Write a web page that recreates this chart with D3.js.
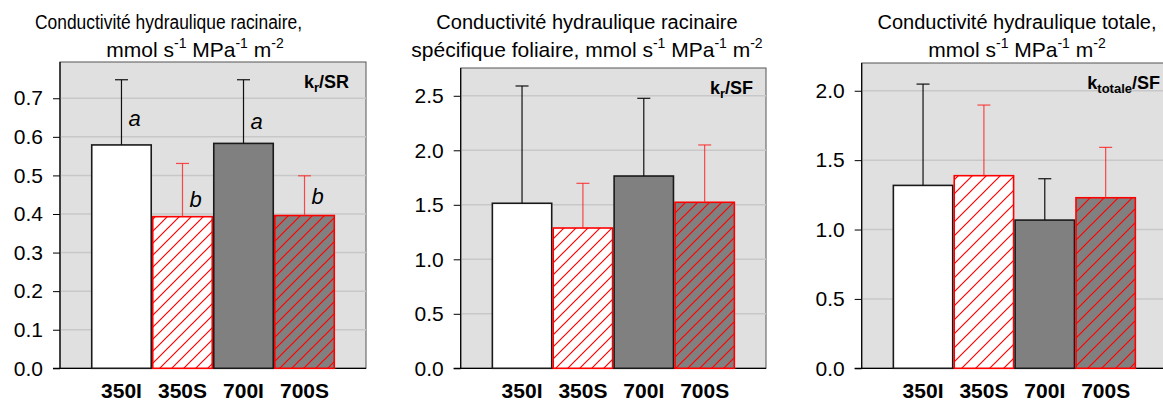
<!DOCTYPE html>
<html>
<head>
<meta charset="utf-8">
<script src="https://cdn.jsdelivr.net/npm/d3@7"></script>
<style>
  body { margin: 0; background: #fff; }
  svg { display: block; font-family: "Liberation Sans", Arial, sans-serif; }
</style>
</head>
<body>
<svg id="chart" width="1163" height="403"></svg>
<script>
// data
var categories = ['350I', '350S', '700I', '700S'];

var krSR_mean = [0.579, 0.393, 0.583, 0.396];
var krSR_err = [0.169, 0.138, 0.165, 0.103];
var krSR_letters = ['a', 'b', 'a', 'b'];
var krSR_letterY = [0.628, 0.418, 0.620, 0.426];

var krSF_mean = [1.514, 1.287, 1.764, 1.523];
var krSF_err = [1.076, 0.410, 0.713, 0.526];

var ktot_mean = [1.318, 1.388, 1.068, 1.229];
var ktot_err = [0.730, 0.509, 0.298, 0.363];

var ticksSR = [0, 0.1, 0.2, 0.3, 0.4, 0.5, 0.6, 0.7];
var ticksSF = [0, 0.5, 1.0, 1.5, 2.0, 2.5];
var ticksTot = [0, 0.5, 1.0, 1.5, 2.0];

var svg = d3.select('#chart');
var fmt = d3.format('.1f');

var panels = [
    { id: 'p1', left: 60, right: 366, top: 62, bottom: 368.3, ymax: 0.794,
      mean: krSR_mean, err: krSR_err, ticks: ticksSR, hatch: 12,
      title1: 'Conductivité hydraulique racinaire,', pre2: '', titleX: 195,
      t1x: 35, t1w: 267,
      tag: ['k', 'r', '/SR'], tagX: 349, letters: krSR_letters, letterY: krSR_letterY },
    { id: 'p2', left: 460.7, right: 766, top: 68, bottom: 368.3, ymax: 2.755,
      mean: krSF_mean, err: krSF_err, ticks: ticksSF, hatch: 12,
      title1: 'Conductivité hydraulique racinaire', pre2: 'spécifique foliaire, ', titleX: 587,
      tag: ['k', 'r', '/SF'], tagX: 753 },
    { id: 'p3', left: 861.7, right: 1167, top: 63, bottom: 368.3, ymax: 2.2,
      mean: ktot_mean, err: ktot_err, ticks: ticksTot, hatch: 14,
      title1: 'Conductivité hydraulique totale,', pre2: '', titleX: 1017,
      tag: ['k', 'totale', '/SF'], tagX: 1160 }
];

var defs = svg.append('defs');

panels.forEach(function(p) {
    // hatch patterns, white and grey backgrounds
    [['w', '#ffffff'], ['g', '#808080']].forEach(function(b) {
        var s = p.hatch;
        var pat = defs.append('pattern')
            .attr('id', 'hatch-' + p.id + b[0])
            .attr('patternUnits', 'userSpaceOnUse')
            .attr('width', s).attr('height', s);
        pat.append('rect').attr('width', s).attr('height', s).style('fill', b[1]);
        pat.append('path')
            .attr('d', 'M0,' + s + 'L' + s + ',0M-2,2L2,-2M' + (s - 2) + ',' + (s + 2) + 'L' + (s + 2) + ',' + (s - 2))
            .style('fill', 'none').style('stroke', '#ff0000').style('stroke-width', '1.2px');
    });

    var x = d3.scaleBand().domain(categories).range([p.left, p.right])
        .paddingInner(0.025).paddingOuter(0.52);
    var y = d3.scaleLinear().domain([0, p.ymax]).range([p.bottom, p.top]);

    var g = svg.append('g');

    g.append('rect')
        .attr('x', p.left).attr('y', p.top)
        .attr('width', p.right - p.left).attr('height', p.bottom - p.top)
        .attr('fill', '#e0e0e0').attr('stroke', '#555').attr('stroke-width', 1);

    g.selectAll('.grid').data(p.ticks.filter(function(d) { return d > 0; }))
        .enter().append('line')
        .attr('x1', p.left).attr('x2', p.right)
        .attr('y1', function(d) { return y(d); }).attr('y2', function(d) { return y(d); })
        .attr('stroke', '#c8c8c8').attr('stroke-width', 1.5);

    var axis = g.append('g').attr('transform', 'translate(' + p.left + ',0)')
        .call(d3.axisLeft(y).tickValues(p.ticks).tickFormat(fmt).tickSize(7).tickSizeOuter(0).tickPadding(10));
    axis.select('.domain').remove();
    axis.selectAll('line').attr('stroke', '#000');
    axis.selectAll('text').attr('font-size', 21).attr('fill', '#000')
        .attr('font-family', '"Liberation Sans", Arial, sans-serif');

    g.append('line').attr('x1', p.left).attr('x2', p.left)
        .attr('y1', p.top).attr('y2', p.bottom).attr('stroke', '#000').attr('stroke-width', 1.2);
    g.append('line').attr('x1', p.left - 7).attr('x2', p.right)
        .attr('y1', p.bottom).attr('y2', p.bottom).attr('stroke', '#000').attr('stroke-width', 1.2);

    var rows = categories.map(function(c, i) {
        return { cat: c, mean: p.mean[i], err: p.err[i], s: c.slice(-1) === 'S', dark: c[0] === '7' };
    });

    g.selectAll('.bar').data(rows).enter().append('rect')
        .attr('x', function(d) { return x(d.cat); })
        .attr('y', function(d) { return y(d.mean); })
        .attr('width', x.bandwidth())
        .attr('height', function(d) { return y(0) - y(d.mean); })
        .style('fill', function(d) {
            if (d.s) return 'url(#hatch-' + p.id + (d.dark ? 'g' : 'w') + ')';
            return d.dark ? '#808080' : '#ffffff';
        })
        .attr('stroke', function(d) { return d.s ? '#ff0000' : '#1a1a1a'; })
        .attr('stroke-width', 1.6);

    var eb = g.selectAll('.err').data(rows).enter().append('g')
        .attr('stroke', function(d) { return d.s ? '#ff2020' : '#111'; })
        .attr('stroke-opacity', function(d) { return d.s ? 0.8 : 1; })
        .attr('stroke-width', 1.2);
    eb.append('line')
        .attr('x1', function(d) { return x(d.cat) + x.bandwidth() / 2; })
        .attr('x2', function(d) { return x(d.cat) + x.bandwidth() / 2; })
        .attr('y1', function(d) { return y(d.mean); })
        .attr('y2', function(d) { return y(d.mean + d.err); });
    eb.append('line')
        .attr('x1', function(d) { return x(d.cat) + x.bandwidth() / 2 - 6.5; })
        .attr('x2', function(d) { return x(d.cat) + x.bandwidth() / 2 + 6.5; })
        .attr('y1', function(d) { return y(d.mean + d.err); })
        .attr('y2', function(d) { return y(d.mean + d.err); });

    if (p.letters) {
        g.selectAll('.letter').data(rows).enter().append('text')
            .attr('x', function(d) { return x(d.cat) + x.bandwidth() / 2 + 7; })
            .attr('y', function(d, i) { return y(p.letterY[i]); })
            .attr('font-size', 22).attr('font-style', 'italic')
            .text(function(d, i) { return p.letters[i]; });
    }

    // category labels
    g.selectAll('.cat').data(categories).enter().append('text')
        .attr('x', function(d) { return x(d) + x.bandwidth() / 2; })
        .attr('y', 398)
        .attr('text-anchor', 'middle')
        .attr('font-size', 21).attr('font-weight', 'bold')
        .text(function(d) { return d; });

    // tag in the corner
    var tag = g.append('text').attr('x', p.tagX).attr('y', p.top + 26)
        .attr('text-anchor', 'end').attr('font-size', 18).attr('font-weight', 'bold');
    tag.append('tspan').text(p.tag[0]);
    tag.append('tspan').attr('font-size', 13).attr('dy', 4).text(p.tag[1]);
    tag.append('tspan').attr('dy', -4).text(p.tag[2]);

    // title
    var t1 = g.append('text').attr('y', 29).attr('font-size', 20).text(p.title1);
    if (p.t1w) {
        t1.attr('x', p.t1x).attr('textLength', p.t1w).attr('lengthAdjust', 'spacingAndGlyphs');
    } else {
        t1.attr('x', p.titleX).attr('text-anchor', 'middle');
    }
    var t2 = g.append('text').attr('x', p.titleX).attr('y', 57)
        .attr('text-anchor', 'middle').attr('font-size', 21);
    t2.append('tspan').text(p.pre2 + 'mmol s');
    t2.append('tspan').attr('font-size', 14).attr('dy', -9).text('-1');
    t2.append('tspan').attr('dy', 9).text(' MPa');
    t2.append('tspan').attr('font-size', 14).attr('dy', -9).text('-1');
    t2.append('tspan').attr('dy', 9).text(' m');
    t2.append('tspan').attr('font-size', 14).attr('dy', -9).text('-2');
});
</script>
</body>
</html>
